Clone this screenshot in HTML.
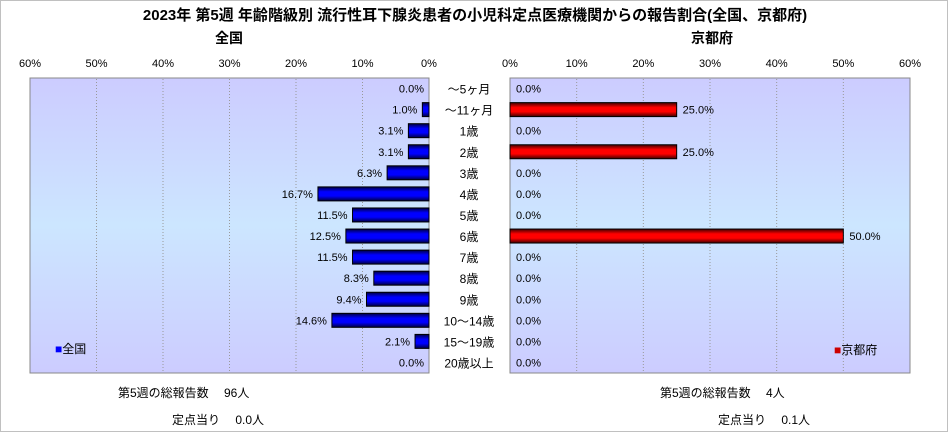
<!DOCTYPE html>
<html><head><meta charset="utf-8"><style>
body{margin:0;background:#fff;}
svg{display:block;font-family:"Liberation Sans","Noto Sans CJK JP",sans-serif;}
</style></head><body>
<svg id="c" width="949" height="433">
<defs>
<linearGradient id="bg" x1="0" y1="0" x2="0" y2="1">
<stop offset="0" stop-color="#ccccff"/><stop offset="0.5" stop-color="#cce6ff"/><stop offset="1" stop-color="#ccccff"/></linearGradient>
<linearGradient id="gb" x1="0" y1="0" x2="0" y2="1">
<stop offset="0" stop-color="#000040"/><stop offset="0.35" stop-color="#0000ff"/><stop offset="0.65" stop-color="#0000ff"/><stop offset="1" stop-color="#000040"/></linearGradient>
<linearGradient id="gr" x1="0" y1="0" x2="0" y2="1">
<stop offset="0" stop-color="#400000"/><stop offset="0.35" stop-color="#ff0000"/><stop offset="0.65" stop-color="#ff0000"/><stop offset="1" stop-color="#400000"/></linearGradient>
</defs>
<rect x="0.5" y="0.5" width="947" height="431" fill="#fff" stroke="#c0c0c0"/>
<text x="475" y="20" font-size="15" font-weight="bold" text-anchor="middle">2023年 第5週 年齢階級別 流行性耳下腺炎患者の小児科定点医療機関からの報告割合(全国、京都府)</text>
<text x="229" y="43" font-size="14" font-weight="bold" text-anchor="middle">全国</text>
<text x="712" y="43" font-size="14" font-weight="bold" text-anchor="middle">京都府</text>
<rect x="30" y="78" width="399" height="295" fill="url(#bg)" stroke="#888"/>
<rect x="510" y="78" width="400" height="295" fill="url(#bg)" stroke="#888"/>
<g id="g"></g>
<text x="55" y="353" font-size="12"><tspan fill="#0000ff">■</tspan>全国</text>
<text x="834" y="354" font-size="12"><tspan fill="#cc0000">■</tspan>京都府</text>
<text x="118" y="397" font-size="12">第5週の総報告数　 96人</text>
<text x="172" y="424" font-size="12">定点当り　 0.0人</text>
<text x="660" y="397" font-size="12">第5週の総報告数　 4人</text>
<text x="718" y="424" font-size="12">定点当り　 0.1人</text>
</svg>
<script>
const categories=["～5ヶ月","～11ヶ月","1歳","2歳","3歳","4歳","5歳","6歳","7歳","8歳","9歳","10～14歳","15～19歳","20歳以上"];
const national=[0.0,1.0,3.1,3.1,6.3,16.7,11.5,12.5,11.5,8.3,9.4,14.6,2.1,0.0];
const kyoto=[0,25,0,25,0,0,0,50,0,0,0,0,0,0];
const ticks=[0,10,20,30,40,50,60];
const NS="http://www.w3.org/2000/svg";
const g=document.getElementById('g');
const top0=78,rowH=295/categories.length;
const xl=v=>429-v*399/60, xr=v=>510+v*400/60, yc=i=>top0+rowH*(i+0.5);
function mk(t,a,txt){const e=document.createElementNS(NS,t);for(const k in a)e.setAttribute(k,a[k]);if(txt!=null)e.textContent=txt;g.appendChild(e);return e;}
ticks.forEach(t=>{
 if(t>0&&t<60){
  let l=mk('line',{x1:xl(t),x2:xl(t),y1:79,y2:372,stroke:'#999','stroke-dasharray':'1,2'});
  
  
  let r=mk('line',{x1:xr(t),x2:xr(t),y1:79,y2:372,stroke:'#999','stroke-dasharray':'1,2'});
  
  
 }
 let a=mk('text',{x:xl(t),y:67,'font-size':11,'text-anchor':'middle'},t+'%');
 
 
 let b=mk('text',{x:xr(t),y:67,'font-size':11,'text-anchor':'middle'},t+'%');
 
 
});
categories.forEach((c,i)=>{
 const y=yc(i);
 let lab=mk('text',{x:469,y:y+5,'font-size':12,'text-anchor':'middle'},c);
 
 
 const v=national[i];
 if(v>0){
  let r=mk('rect',{x:xl(v),y:y-7,width:429-xl(v),height:14,fill:'url(#gb)',stroke:'#000'});
  
  
 }
 let t=mk('text',{x:xl(v)-5,y:y+4,'font-size':11,'text-anchor':'end'},v.toFixed(1)+'%');
 
 
 const k=kyoto[i];
 if(k>0){
  let r=mk('rect',{x:510,y:y-7,width:xr(k)-510,height:14,fill:'url(#gr)',stroke:'#000'});
  
  
 }
 let t2=mk('text',{x:xr(k)+6,y:y+4,'font-size':11},k.toFixed(1)+'%');
 
 
});
</script>
</body></html>
